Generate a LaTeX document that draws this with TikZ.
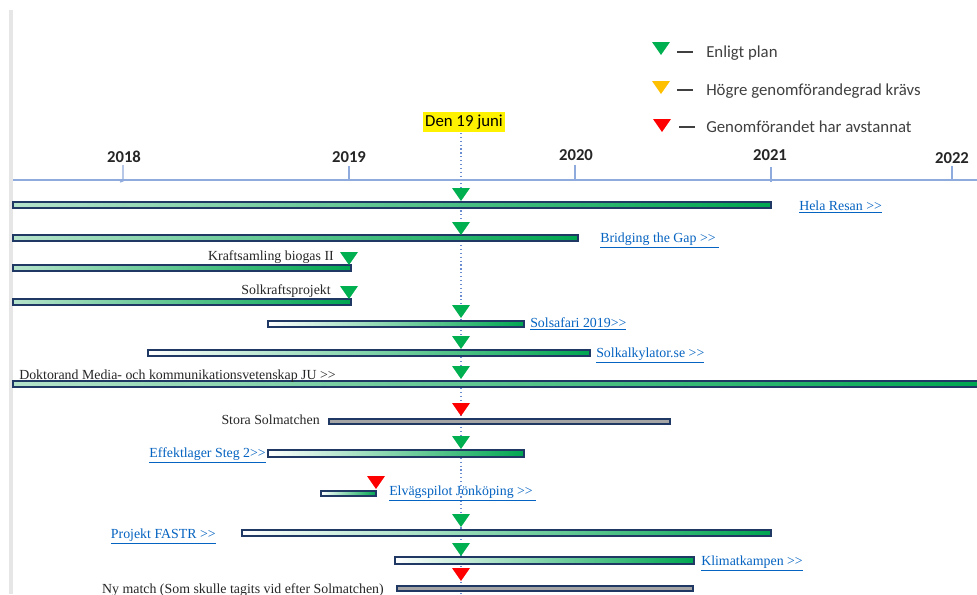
\documentclass[tikz,border=0pt]{standalone}
\usepackage{fontspec}
\setmainfont{Liberation Serif}
\newfontfamily\calfont{Carlito}
\definecolor{navy}{HTML}{203864}
\definecolor{grn}{HTML}{00A651}
\definecolor{mint}{HTML}{B5E3CB}
\definecolor{axisblue}{HTML}{8FAADC}
\definecolor{dotblue}{HTML}{6A8CD0}
\definecolor{linkblue}{HTML}{0563C1}
\definecolor{txt}{HTML}{262626}
\definecolor{legtxt}{HTML}{404040}
\definecolor{tgreen}{HTML}{00B050}
\definecolor{torange}{HTML}{FFC000}
\definecolor{tred}{HTML}{FF0000}
\definecolor{greybar}{HTML}{A5A5A5}
\definecolor{leftedge}{HTML}{E6E6E6}
\newcommand\tri[3]{\fill[#3] (#1-9,#2) -- (#1+9,#2) -- (#1,#2+13) -- cycle;}
\newcommand\lnk[1]{\underline{#1}}
\newcommand\dgt{>{}>}
\tikzset{
  gbar/.style={draw=navy, line width=1.1pt, left color=#1, right color=grn},
  gbar/.default=white,
  greyb/.style={draw=navy, line width=1.1pt, fill=greybar},
  barlabel/.style={inner sep=0pt, font=\fontsize{10.4}{12}\selectfont, text=txt},
  linklabel/.style={barlabel, text=linkblue},
  yearlabel/.style={inner sep=0pt, font=\calfont\bfseries\fontsize{12.5}{14}\selectfont, text=txt, anchor=base},
  legendlabel/.style={inner sep=0pt, font=\calfont\fontsize{12.6}{14}\selectfont, text=legtxt, anchor=base west},
  tick/.style={draw=axisblue, line width=0.9pt},
}
\begin{document}
\begin{tikzpicture}[x=0.75pt, y=-0.75pt]
\useasboundingbox (0,0) rectangle (977,594);
\fill[white] (0,0) rectangle (977,594);
% left edge
\fill[leftedge] (9,10) rectangle (13,594);
% legend
\tri{661}{42}{tgreen}
\draw[legtxt, line width=1.3pt] (677,52) -- (693,52);
\node[legendlabel] (leg1) at (706,57) {Enligt plan};
\tri{661}{81}{torange}
\draw[legtxt, line width=1.3pt] (677,90) -- (693,90);
\node[legendlabel] (leg2) at (706,95) {Högre genomförandegrad krävs};
\tri{662}{119}{tred}
\draw[legtxt, line width=1.3pt] (679,127) -- (695,127);
\node[legendlabel] (leg3) at (706,132) {Genomförandet har avstannat};
% today marker
\node[fill=yellow, inner xsep=1.5pt, inner ysep=2pt, font=\calfont\fontsize{12.6}{14}\selectfont, anchor=base] (today) at (464,126) {Den 19 juni};
\coordinate (dtop) at (461,133);
\coordinate (dbot) at (461,594);
\draw[dotblue, dotted, line width=0.9pt] (dtop) -- (dbot);
% axis
\coordinate (axL) at (13,180);
\coordinate (axR) at (977,180);
\draw[axisblue, line width=0.9pt] (axL) -- (axR);
\draw[tick] (123,165) -- (123,181) -- (120,182);
\draw[tick] (349,166) -- (349,181);
\draw[tick] (575,165) -- (575,181);
\draw[tick] (771,167) -- (771,182);
\draw[tick] (952,166) -- (952,181);
\node[yearlabel] (y2018) at (124,162) {2018};
\node[yearlabel] (y2019) at (349,162) {2019};
\node[yearlabel] (y2020) at (576,160) {2020};
\node[yearlabel] (y2021) at (770,160) {2021};
\node[yearlabel] (y2022) at (952,163) {2022};
% bars
\draw[gbar=mint] (13,202) rectangle (771,208);
\tri{461}{188}{tgreen}
\node[linklabel, anchor=base west] (hela) at (799,210) {\lnk{Hela Resan \dgt}};

\draw[gbar=mint] (13,235) rectangle (578,241);
\tri{461}{222}{tgreen}
\node[linklabel, anchor=base west] (bridge) at (600,242) {\lnk{Bridging the Gap \dgt\ }};

\draw[gbar=mint] (13,265) rectangle (351,271);
\tri{349}{252}{tgreen}
\node[barlabel, anchor=base east] (kraft) at (334,260) {Kraftsamling biogas II};

\draw[gbar=mint] (13,299) rectangle (351,305);
\tri{349}{286}{tgreen}
\node[barlabel, anchor=base east] (solkraft) at (331,294) {Solkraftsprojekt};

\draw[gbar] (268,321) rectangle (524,327);
\tri{461}{305}{tgreen}
\node[linklabel, anchor=base west] (solsafari) at (530,327) {\lnk{Solsafari 2019\dgt}};

\draw[gbar] (148,350) rectangle (590,356);
\tri{461}{336}{tgreen}
\node[linklabel, anchor=base west] (solkalk) at (596,357) {\lnk{Solkalkylator.se \dgt}};

\draw[gbar=mint] (13,381) rectangle (979,387);
\tri{461}{366}{tgreen}
\node[barlabel, anchor=base west] (dokt) at (19,379) {Doktorand Media- och kommunikationsvetenskap JU \dgt};

\draw[greyb] (329,419) rectangle (670,424);
\tri{461}{403}{tred}
\node[barlabel, anchor=base east] (stora) at (320,424) {Stora Solmatchen};

\draw[gbar] (268,450) rectangle (524,457);
\tri{461}{436}{tgreen}
\node[linklabel, anchor=base east] (effekt) at (266,457) {\lnk{Effektlager Steg 2\dgt}};

\draw[gbar] (321,491) rectangle (376,496);
\tri{376}{476}{tred}
\node[linklabel, anchor=base west] (elv) at (389,495) {\lnk{Elvägspilot Jönköping \dgt\ }};

\draw[gbar] (242,530) rectangle (771,536);
\tri{461}{514}{tgreen}
\node[linklabel, anchor=base east] (fastr) at (216,538) {\lnk{Projekt FASTR \dgt}};

\draw[gbar] (395,557) rectangle (694,564);
\tri{461}{543}{tgreen}
\node[linklabel, anchor=base west] (klimat) at (701,565) {\lnk{Klimatkampen \dgt}};

\draw[greyb] (397,586) rectangle (693,591);
\tri{461}{568}{tred}
\node[barlabel, anchor=base east] (nymatch) at (384,593) {Ny match (Som skulle tagits vid efter Solmatchen)};
\end{tikzpicture}
\end{document}
